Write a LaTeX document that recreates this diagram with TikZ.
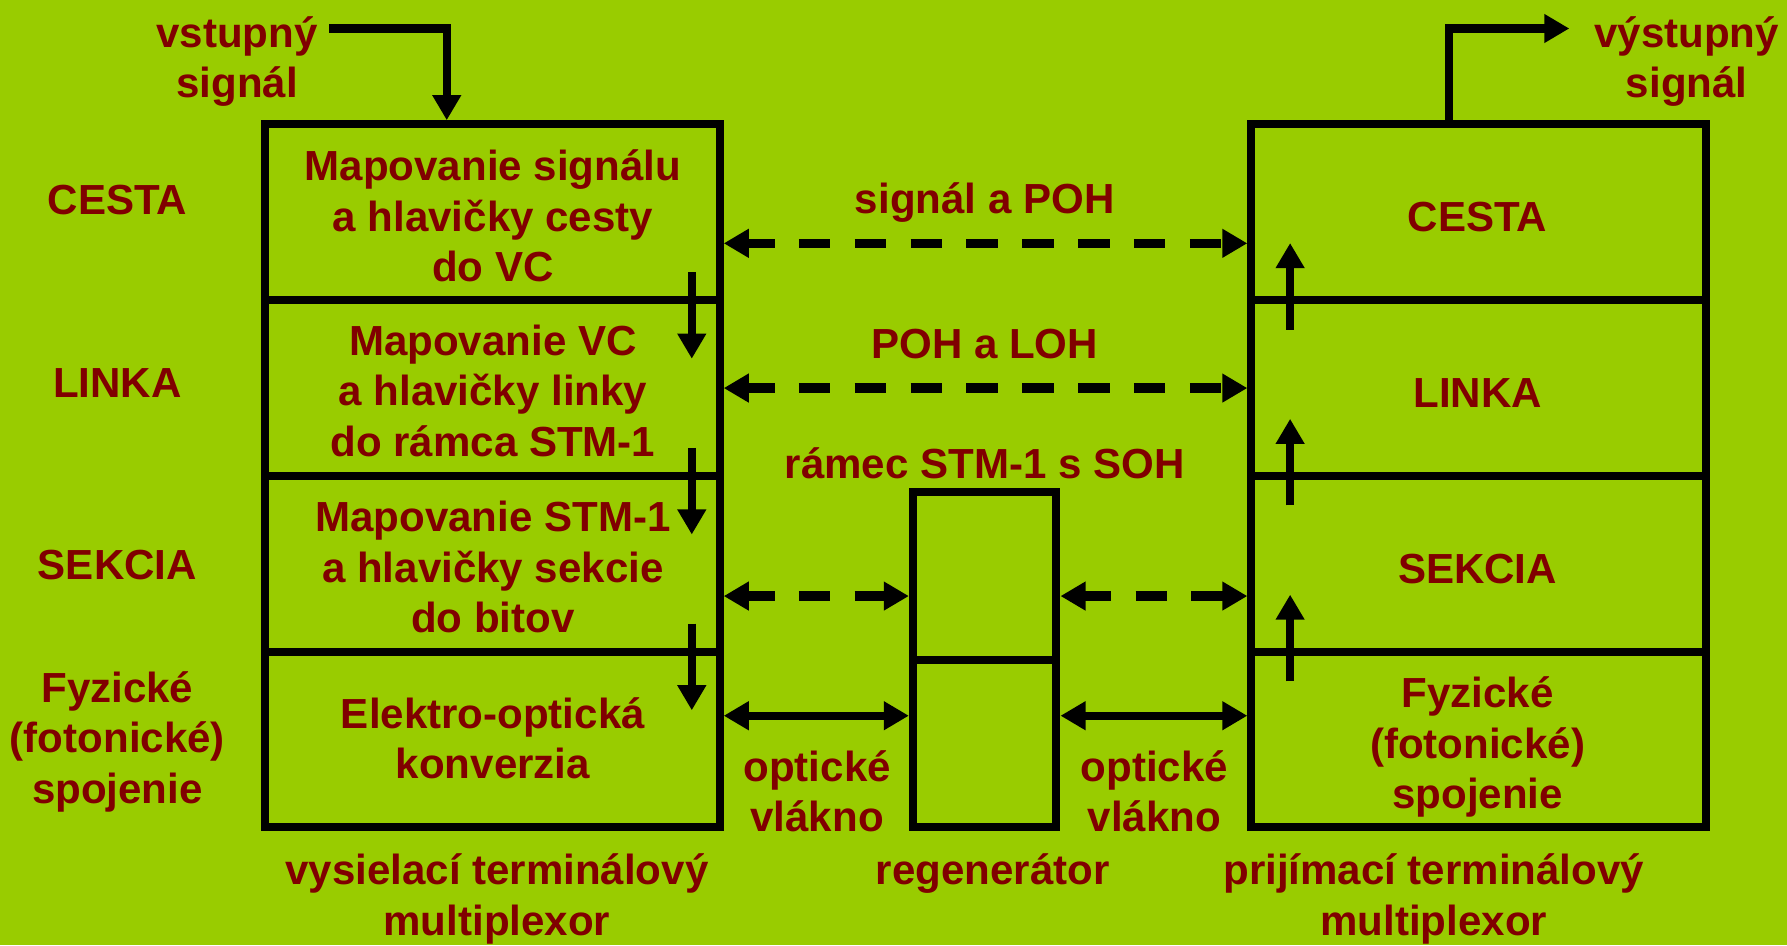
\documentclass[tikz,border=0pt]{standalone}
\usepackage{fontspec}
\setmainfont{Liberation Sans}
\usetikzlibrary{arrows.meta,positioning}

\definecolor{zelena}{HTML}{99CC00}
\definecolor{cervena}{HTML}{800000}

\tikzset{
  napis/.style={text=cervena,font=\bfseries\fontsize{10.5}{12.6}\selectfont,align=center,inner sep=0pt},
  vrstva/.style={draw,line width=2pt,minimum width=3.99cm,minimum height=1.5425cm,inner sep=0pt,outer sep=0pt},
  regen/.style={vrstva,minimum width=1.26cm,minimum height=1.47cm},
  hrot/.tip={Triangle[length=2.2mm,width=2.4mm]},
  sipka/.style={line width=2pt,-hrot},
  obe/.style={line width=2pt,hrot-hrot,shorten <=1pt,shorten >=1pt},
  ciarky/.style={obe,line width=2.3pt,dash pattern=on 2.77mm off 2.13mm,dash phase=0.37mm},
}

\begin{document}
\begin{tikzpicture}
\fill[zelena] (0,0) rectangle (15.68,-8.292);

% vysielaci terminalovy multiplexor
\node[vrstva] (v1) at (4.32,-1.86125) {};
\node[vrstva,below=0pt of v1] (v2) {};
\node[vrstva,below=0pt of v2] (v3) {};
\node[vrstva,below=0pt of v3] (v4) {};

% prijimaci terminalovy multiplexor
\node[vrstva] (p1) at (12.975,-1.86125) {};
\node[vrstva,below=0pt of p1] (p2) {};
\node[vrstva,below=0pt of p2] (p3) {};
\node[vrstva,below=0pt of p3] (p4) {};

% regenerator
\node[regen] (g1) at (8.64,-5.055) {};
\node[regen,below=0pt of g1] (g2) {};

% popisy vrstiev
\node[napis] (lCesta) at (1.03,-1.753) {CESTA};
\node[napis] (lLinka) at (1.03,-3.359) {LINKA};
\node[napis] (lSekcia) at (1.03,-4.959) {SEKCIA};
\node[napis] (lFyz) at (1.03,-6.507) {Fyzické\\(fotonické)\\spojenie};

\node[napis] (tCesta) at (4.325,-1.895) {Mapovanie signálu\\a hlavičky cesty\\do VC};
\node[napis] (tLinka) at (4.325,-3.429) {Mapovanie VC\\a hlavičky linky\\do rámca STM-1};
\node[napis] (tSekcia) at (4.325,-4.978) {Mapovanie STM-1\\a hlavičky sekcie\\do bitov};
\node[napis] (tFyz) at (4.325,-6.48) {Elektro-optická\\konverzia};

\node[napis] (pCesta) at (12.965,-1.90) {CESTA};
\node[napis] (pLinka) at (12.965,-3.45) {LINKA};
\node[napis] (pSekcia) at (12.965,-4.995) {SEKCIA};
\node[napis] (pFyz) at (12.965,-6.556) {Fyzické\\(fotonické)\\spojenie};

% hlavicky medzi vrstvami
\node[napis] (hPOH) at (8.64,-1.773) {signál a POH};
\node[napis] (hLOH) at (8.64,-3.019) {POH a LOH};
\node[napis] (hSOH) at (8.64,-4.069) {rámec STM-1 s SOH};

\node[napis] (vlakno1) at (7.17,-6.945) {optické\\vlákno};
\node[napis] (vlakno2) at (10.13,-6.945) {optické\\vlákno};

\node[napis] (nVys) at (4.36,-7.886) {vysielací terminálový\\multiplexor};
\node[napis] (nReg) at (8.71,-7.669) {regenerátor};
\node[napis] (nPrij) at (12.58,-7.886) {prijímací terminálový\\multiplexor};

\node[napis] (vstup) at (2.08,-0.539) {vstupný\\signál};
\node[napis] (vystup) at (14.80,-0.539) {výstupný\\signál};

% vstup a vystup signalu
\coordinate (vstupZ) at (2.89,-0.25);
\coordinate (vystupK) at (13.77,-0.25);
\draw[sipka,shorten >=1pt] (vstupZ) -| ([xshift=-4mm]v1.north);
\draw[sipka] ([xshift=-2.6mm]p1.north) |- (vystupK);

% spojenia medzi rovnakymi vrstvami
\coordinate (h1) at (0,-2.135);
\coordinate (h2) at (0,-3.405);
\coordinate (h3) at (0,-5.23);
\coordinate (h4) at (0,-6.28);
\draw[ciarky] (v1.east |- h1) -- (p1.west |- h1);
\draw[ciarky] (v2.east |- h2) -- (p2.west |- h2);
\draw[ciarky] (v3.east |- h3) -- (g1.west |- h3);
\draw[ciarky] (g1.east |- h3) -- (p3.west |- h3);
\draw[obe] (v4.east |- h4) -- (g2.west |- h4);
\draw[obe] (g2.east |- h4) -- (p4.west |- h4);

% smer spracovania
\foreach \a in {v1,v2,v3}
  \draw[sipka] ([xshift=17.5mm,yshift=2.45mm]\a.south) -- ([xshift=17.5mm,yshift=-5.15mm]\a.south);
\foreach \a in {p1,p2,p3}
  \draw[sipka] ([xshift=-16.55mm,yshift=-2.6mm]\a.south) -- ([xshift=-16.55mm,yshift=5mm]\a.south);
\end{tikzpicture}
\end{document}
